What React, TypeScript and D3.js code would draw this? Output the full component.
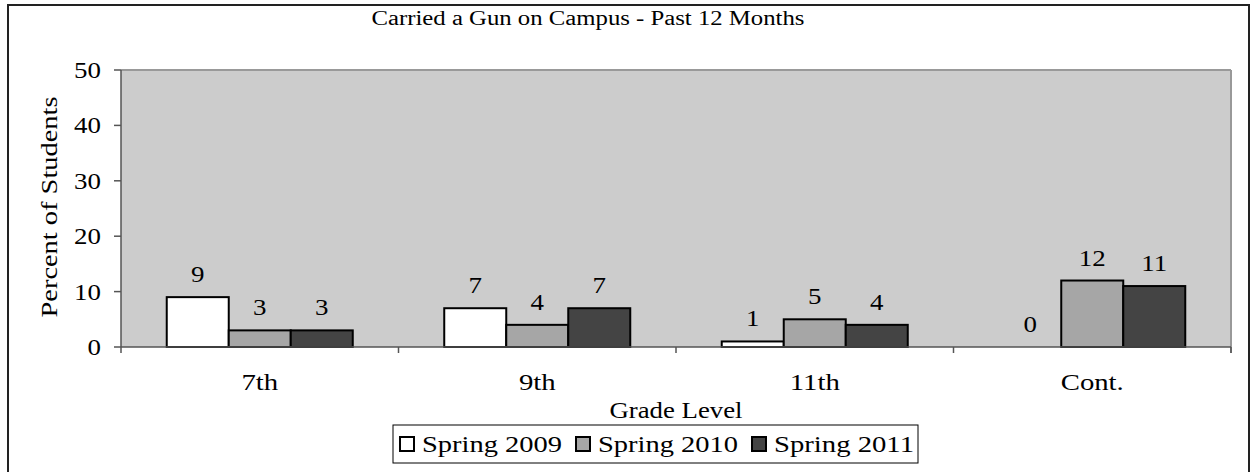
import React from "react";
import * as d3 from "d3";

const categories = ["7th", "9th", "11th", "Cont."];
const seriesNames = ["Spring 2009", "Spring 2010", "Spring 2011"];
const spring2009 = [9, 7, 1, 0];
const spring2010 = [3, 4, 5, 12];
const spring2011 = [3, 7, 4, 11];
const yTicks = [0, 10, 20, 30, 40, 50];
const seriesColors = ["#ffffff", "#a6a6a6", "#444444"];
const seriesValues = [spring2009, spring2010, spring2011];

const W = 1252;
const H = 472;
const FONT = "Liberation Serif, Times New Roman, serif";

function Label(props: { x: number; y: number; anchor?: string; size?: number; sx?: number; children: React.ReactNode }) {
  const { x, y, anchor = "middle", size = 23, sx = 1.17, children } = props;
  return (
    <g transform={`translate(${x},${y}) scale(${sx},1)`}>
      <text x={0} y={0} fontSize={size} textAnchor={anchor} fill="#000" style={{ fontFamily: FONT }}>
        {children}
      </text>
    </g>
  );
}

export default function App() {
  const plotL = 121, plotR = 1231, plotT = 70, plotB = 347;
  const x0 = d3.scaleBand<string>().domain(categories).range([plotL, plotR]).paddingInner(0.3297).paddingOuter(0.16485);
  const x1 = d3.scaleBand<string>().domain(seriesNames).range([0, x0.bandwidth()]).padding(0);
  const y = d3.scaleLinear().domain([0, 50]).range([plotB, plotT]);
  const step = x0.step();
  const boundaries = d3.range(categories.length + 1).map((i) => plotL + i * step);
  const ts: React.CSSProperties = { fontFamily: FONT };

  return (
    <svg width={W} height={H} style={{ position: "absolute", left: 0, top: 0, background: "#fff", fontFamily: FONT }}>
      <rect x={8} y={5} width={1241} height={490} fill="#fff" stroke="#222" strokeWidth={2} />
      <text style={ts} x={588} y={25} fontSize={20} textAnchor="middle" textLength={433} lengthAdjust="spacingAndGlyphs" fill="#000">
        Carried a Gun on Campus - Past 12 Months
      </text>
      <rect x={plotL} y={plotT} width={plotR - plotL} height={plotB - plotT} fill="#cccccc" />
      <line x1={plotL} x2={plotR} y1={plotT} y2={plotT} stroke="#999" strokeWidth={2} />
      <line x1={plotR} x2={plotR} y1={plotT} y2={plotB + 6} stroke="#999" strokeWidth={2} />
      <line x1={plotL} x2={plotL} y1={plotT} y2={plotB} stroke="#555" strokeWidth={1.5} />
      {yTicks.map((t) => (
        <g key={t}>
          <line x1={plotL - 7} x2={plotL} y1={y(t)} y2={y(t)} stroke="#555" strokeWidth={1.5} />
          <Label x={101} y={y(t) + 8} anchor="end">
            {t}
          </Label>
        </g>
      ))}
      <text
        style={ts}
        transform={`translate(57,207) rotate(-90)`}
        fontSize={23}
        textAnchor="middle"
        textLength={221}
        lengthAdjust="spacingAndGlyphs"
        fill="#000"
      >
        Percent of Students
      </text>
      {categories.map((c, ci) => (
        <g key={c}>
          {seriesNames.map((s, si) => {
            const v = seriesValues[si][ci];
            const bx = (x0(c) as number) + (x1(s) as number);
            const bw = x1.bandwidth();
            return (
              <g key={s}>
                <rect x={bx} y={y(v)} width={bw} height={y(0) - y(v)} fill={seriesColors[si]} stroke="#000" strokeWidth={2} />
                <Label x={bx + bw / 2} y={y(v) - 15}>
                  {v}
                </Label>
              </g>
            );
          })}
        </g>
      ))}
      <line x1={plotL} x2={plotR} y1={plotB} y2={plotB} stroke="#555" strokeWidth={1.5} />
      {boundaries.map((b, i) => (
        <line key={i} x1={b} x2={b} y1={plotB} y2={plotB + 6} stroke="#555" strokeWidth={1.5} />
      ))}
      {categories.map((c) => (
        <Label key={c} x={(x0(c) as number) + x0.bandwidth() / 2} y={390} sx={1.25}>
          {c}
        </Label>
      ))}
      <text style={ts} x={676} y={418} fontSize={23} textAnchor="middle" textLength={133} lengthAdjust="spacingAndGlyphs" fill="#000">
        Grade Level
      </text>
      <rect x={393} y={425} width={525} height={38} fill="#fff" stroke="#000" strokeWidth={1} />
      {seriesNames.map((s, i) => {
        const lx = 400 + i * 176;
        return (
          <g key={s}>
            <rect x={lx} y={437} width={14} height={14} fill={seriesColors[i]} stroke="#000" strokeWidth={2} />
            <text style={ts} x={lx + 22} y={452} fontSize={23} textLength={140} lengthAdjust="spacingAndGlyphs" fill="#000">
              {s}
            </text>
          </g>
        );
      })}
    </svg>
  );
}
